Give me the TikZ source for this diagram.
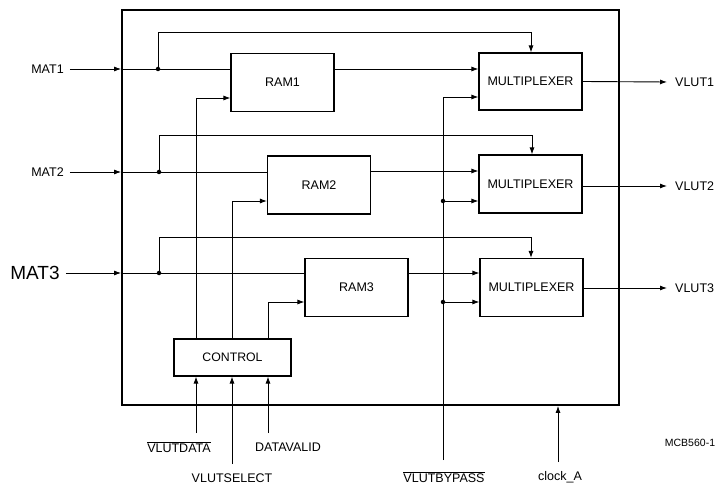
\documentclass[tikz,border=0pt]{standalone}
\usepackage{fontspec}
\setmainfont{Liberation Sans}
\usetikzlibrary{arrows.meta}
\begin{document}
\begin{tikzpicture}[x=1pt,y=-1pt,
  blk/.style={draw,line width=1.1pt,minimum width=103pt,minimum height=58pt,inner sep=0pt,font=\fontsize{12.5}{14}\selectfont},
  wire/.style={line width=0.9pt},
  arr/.style={wire,-{Latex[length=7pt,width=5pt]}},
  lbl/.style={inner sep=0pt,font=\fontsize{12.5}{14}\selectfont},
  dot/.style={circle,fill,inner sep=0pt,minimum size=4.5pt}]
\useasboundingbox (0,0) rectangle (722,486);
% outer box
\node[draw,line width=1.8pt,minimum width=497pt,minimum height=395pt,inner sep=0pt] (chip) at (370.5,207.5) {};
% blocks
\node[blk] (ram1) at (282.5,82.5) {RAM1};
\node[blk] (ram2) at (319,185) {RAM2};
\node[blk] (ram3) at (356.5,287.5) {RAM3};
\node[blk,minimum height=57pt] (mux1) at (530.5,81.5) {MULTIPLEXER};
\node[blk] (mux2) at (530.5,184) {MULTIPLEXER};
\node[blk] (mux3) at (531.5,287.5) {MULTIPLEXER};
\node[blk,minimum width=117pt,minimum height=37pt,font=\fontsize{12.3}{14}\selectfont] (ctrl) at (232.5,357.5) {CONTROL};
% input labels
\node[lbl] (mat1) at (47.5,69) {MAT1};
\node[lbl] (mat2) at (47.5,172) {MAT2};
\node[lbl,font=\fontsize{19}{22}\selectfont] (mat3) at (35,273) {MAT3};
% output labels
\node[lbl,anchor=west] (vlut1) at (675,82) {VLUT1};
\node[lbl,anchor=west] (vlut2) at (675,186) {VLUT2};
\node[lbl,anchor=west] (vlut3) at (675,288) {VLUT3};
% bottom labels
\node[lbl] (vdl) at (179,447) {$\overline{\mbox{VLUTDATA}}$};
\node[lbl] (vsl) at (232,478) {VLUTSELECT};
\node[lbl] (dvl) at (288,447) {DATAVALID};
\node[lbl] (vbl) at (444,477) {$\overline{\mbox{VLUTBYPASS}}$};
\node[lbl] (clkl) at (560,477) {clock\_A};
\node[lbl,font=\fontsize{10.5}{12}\selectfont] (mcb) at (690,443) {MCB560-1};
% junctions
\node[dot] (j1) at (158,69) {};
\node[dot] (j2) at (159,172) {};
\node[dot] (j3) at (159,273) {};
\node[dot] (b2) at (443,201) {};
\node[dot] (b3) at (443,302) {};
\coordinate (b1) at (443,97);
\coordinate (bp) at (443,460);
\coordinate (t1) at (531,32);
\coordinate (t2) at (532,135);
\coordinate (t3) at (531,237);
\coordinate (c1) at (196,98);
\coordinate (c2) at (232,201);
\coordinate (c3) at (268,302);
\coordinate (vdin) at (196,433);
\coordinate (vsin) at (232,464);
\coordinate (dvin) at (268,433);
\coordinate (clk) at (558,462);
% MAT inputs
\foreach \m/\j/\r in {mat1/j1/ram1, mat2/j2/ram2, mat3/j3/ram3}{
  \draw[arr] ([xshift=6pt]\m.east) -- (chip.west |- \j);
  \draw[wire] (chip.west |- \j) -- (\j) -- (\r.west |- \j);
}
% bypass branches to multiplexer tops
\draw[arr] (j1) |- (t1) -- (t1 |- mux1.north);
\draw[arr] (j2) |- (t2) -- (t2 |- mux2.north);
\draw[arr] (j3) |- (t3) -- (t3 |- mux3.north);
% RAM outputs
\draw[arr] (ram1.east |- j1) -- (mux1.west |- j1);
\draw[arr] (ram2.east |- 0,171) -- (mux2.west |- 0,171);
\draw[arr] (ram3.east |- j3) -- (mux3.west |- j3);
% mux outputs
\draw[arr] (mux1.east) -- ([xshift=-8pt]vlut1.west);
\draw[arr] (mux2.east |- vlut2) -- ([xshift=-8pt]vlut2.west);
\draw[arr] (mux3.east |- vlut3) -- ([xshift=-8pt]vlut3.west);
% control outputs
\draw[arr] (ctrl.north -| c1) |- (ram1.west |- c1);
\draw[arr] (ctrl.north -| c2) |- (ram2.west |- c2);
\draw[arr] (ctrl.north -| c3) |- (ram3.west |- c3);
% bypass
\draw[wire] (bp) -- (b1);
\draw[arr] (b1) -- (mux1.west |- b1);
\draw[arr] (b2) -- (mux2.west |- b2);
\draw[arr] (b3) -- (mux3.west |- b3);
% control inputs
\draw[arr] (vdin) -- (ctrl.south -| vdin);
\draw[arr] (vsin) -- (ctrl.south -| vsin);
\draw[arr] (dvin) -- (ctrl.south -| dvin);
% clock
\draw[arr] (clk) -- (clk |- chip.south);
\end{tikzpicture}
\end{document}
